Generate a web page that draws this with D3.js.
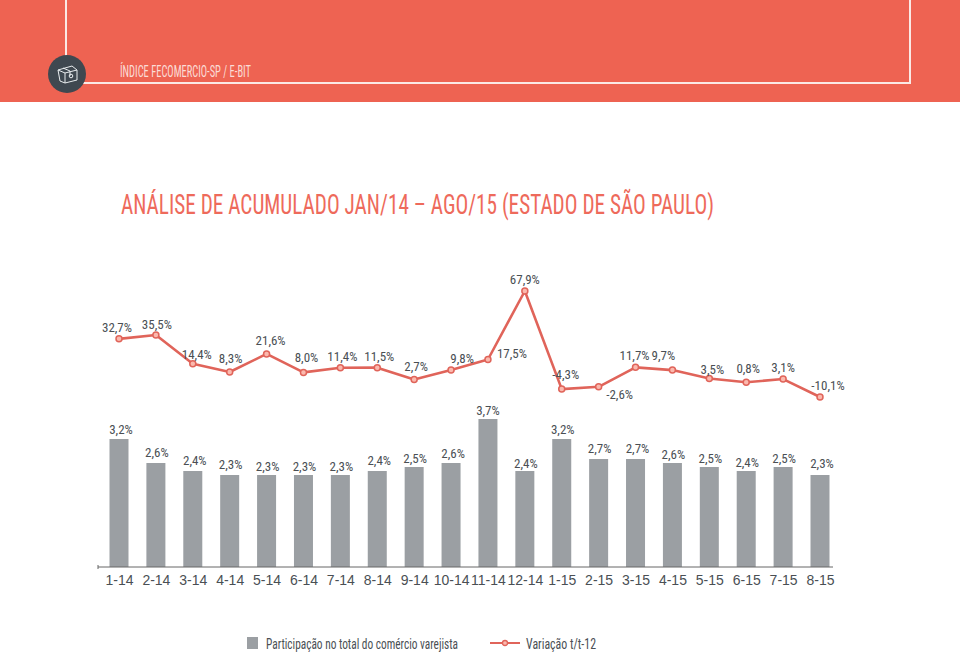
<!DOCTYPE html>
<html><head><meta charset="utf-8">
<script src="https://cdn.jsdelivr.net/npm/d3@7/dist/d3.min.js"></script>
<style>html,body{margin:0;padding:0;background:#fff}svg{display:block}text{font-family:"Liberation Sans Narrow","Roboto Condensed","Liberation Sans",sans-serif}</style>
</head><body><div id="c"></div>
<script>
const categories=["1-14","2-14","3-14","4-14","5-14","6-14","7-14","8-14","9-14","10-14","11-14","12-14","1-15","2-15","3-15","4-15","5-15","6-15","7-15","8-15"];
const participacao=[3.2,2.6,2.4,2.3,2.3,2.3,2.3,2.4,2.5,2.6,3.7,2.4,3.2,2.7,2.7,2.6,2.5,2.4,2.5,2.3];
const variacao=[32.7,35.5,14.4,8.3,21.6,8.0,11.4,11.5,2.7,9.8,17.5,67.9,-4.3,-2.6,11.7,9.7,3.5,0.8,3.1,-10.1];
const barLabelDx=[2,1,2,1,1,1,1,2,1,2,0,1,1,1,2,1,1,1,1,2];
const barLabelDy=[-5,-6,-6,-6,-4,-4,-4,-6,-4,-5,-4,-3,-5,-6,-6,-4,-4,-4,-4,-7];
const lineLabelDx=[-2,1,4,1,4,3,2,2,2,11,24,0,4,21,-1,-9,3,2,0,8];
const lineLabelDy=[-7,-6,-5,-9,-9,-10,-7,-7,-9,-7,-1,-7,-10,12,-7,-10,-5,-9,-7,-7];
const fmt=v=>d3.format(".1f")(v).replace(".",",").replace("−","-")+"%";
const W=960,H=653;
const svg=d3.select("#c").append("svg").attr("width",W).attr("height",H);
const red="#ee6352",gray="#9b9fa3",line="#e0645a",txt="#4a4f54";

// header
svg.append("rect").attr("width",W).attr("height",102).attr("fill",red);
svg.append("path").attr("d","M66,0V83H910V0").attr("fill","none").attr("stroke","#fbe9e5").attr("stroke-width",2);
svg.append("circle").attr("cx",67).attr("cy",74).attr("r",19).attr("fill","#3f4850");
const ic=svg.append("g").attr("fill","none").attr("stroke","#e8ecee").attr("stroke-width",1);
ic.append("path").attr("d","M58,70L72,66L77,70V80L65,83L60,81Z");
ic.append("path").attr("d","M58,70L65,73L77,70M65,73V83M63,68L70,71V76");
ic.append("circle").attr("cx",71).attr("cy",76).attr("r",1.8);
svg.append("text").attr("x",120).attr("y",77).attr("font-size",16).attr("fill","#fbdcd6").attr("textLength",131).attr("lengthAdjust","spacingAndGlyphs").text("ÍNDICE FECOMERCIO-SP / E-BIT");
svg.append("text").attr("x",121).attr("y",214).attr("font-size",27).attr("fill","#ee6a5b").attr("textLength",593).attr("lengthAdjust","spacingAndGlyphs").text("ANÁLISE DE ACUMULADO JAN/14 – AGO/15 (ESTADO DE SÃO PAULO)");

// scales
const x=d3.scalePoint().domain(categories).range([119,820]);
const yB=d3.scaleLinear().domain([0,3.7]).range([567,419]);
const yL=d3.scaleLinear().domain([-10.1,67.9]).range([397,291]);
const bw=19;

// bars
svg.append("g").selectAll("rect").data(participacao).join("rect")
 .attr("x",(d,i)=>x(categories[i])-bw/2).attr("width",bw)
 .attr("y",d=>yB(d)).attr("height",d=>yB(0)-yB(d)).attr("fill",gray);
svg.append("g").selectAll("text").data(participacao).join("text")
 .attr("x",(d,i)=>x(categories[i])+barLabelDx[i]).attr("y",(d,i)=>yB(d)+barLabelDy[i])
 .attr("text-anchor","middle").attr("font-size",13).attr("fill",txt).text(fmt);

// axis
const ax=svg.append("g").attr("transform","translate(0,567)").call(d3.axisBottom(x).tickSize(0).tickPadding(8));
ax.select(".domain").attr("d","M98,0H833").attr("stroke","#666").attr("stroke-width",1);
ax.selectAll("text").attr("font-size",14).attr("fill",txt).style("font-family",'"Liberation Sans Narrow",sans-serif');
svg.append("line").attr("x1",98).attr("x2",98).attr("y1",565).attr("y2",569).attr("stroke","#666");

// line
const ln=d3.line().x((d,i)=>x(categories[i])).y(d=>yL(d));
svg.append("path").attr("d",ln(variacao)).attr("fill","none").attr("stroke",line).attr("stroke-width",2.6).attr("stroke-linejoin","round");
svg.append("g").selectAll("circle").data(variacao).join("circle")
 .attr("cx",(d,i)=>x(categories[i])).attr("cy",d=>yL(d)).attr("r",3)
 .attr("fill","#fbb9ae").attr("stroke",line).attr("stroke-width",1.5);
svg.append("g").selectAll("text").data(variacao).join("text")
 .attr("x",(d,i)=>x(categories[i])+lineLabelDx[i]).attr("y",(d,i)=>yL(d)+lineLabelDy[i])
 .attr("text-anchor","middle").attr("font-size",13).attr("fill",txt).text(fmt);

// legend
const lg=svg.append("g");
lg.append("rect").attr("x",247).attr("y",637).attr("width",11).attr("height",12).attr("fill",gray);
lg.append("text").attr("x",266).attr("y",649).attr("font-size",14.5).attr("fill",txt).attr("textLength",192).attr("lengthAdjust","spacingAndGlyphs").text("Participação no total do comércio varejista");
lg.append("line").attr("x1",490).attr("x2",520).attr("y1",643).attr("y2",643).attr("stroke",line).attr("stroke-width",2);
lg.append("circle").attr("cx",505).attr("cy",643).attr("r",2.5).attr("fill","#fbb9ae").attr("stroke",line).attr("stroke-width",1.3);
lg.append("text").attr("x",526).attr("y",649).attr("font-size",14.5).attr("fill",txt).attr("textLength",70).attr("lengthAdjust","spacingAndGlyphs").text("Variação t/t-12");
</script></body></html>
